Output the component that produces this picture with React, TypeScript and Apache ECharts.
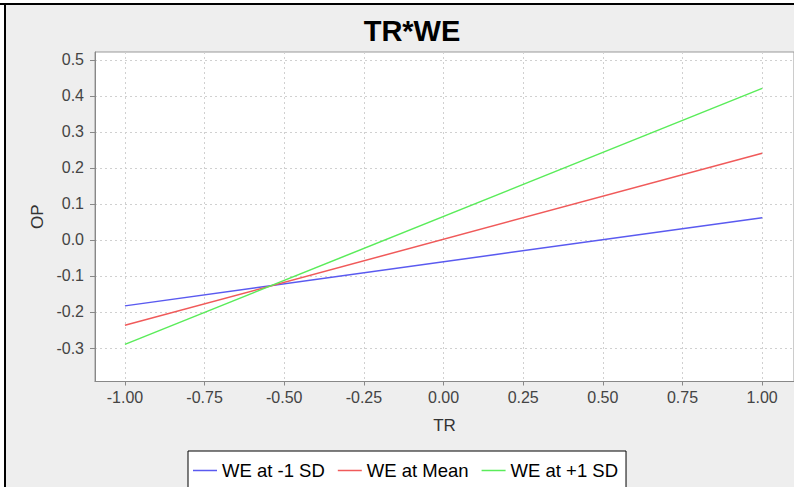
import React, { useEffect, useRef } from "react";
import * as echarts from "echarts";

const trValues = [-1, 1];
const weLowSD = [-0.183, 0.062];
const weMean = [-0.237, 0.241];
const weHighSD = [-0.29, 0.421];
const seriesNames = ["WE at -1 SD", "WE at Mean", "WE at +1 SD"];
const xTickValues = [-1, -0.75, -0.5, -0.25, 0, 0.25, 0.5, 0.75, 1];
const yTickValues = [-0.3, -0.2, -0.1, 0, 0.1, 0.2, 0.3, 0.4, 0.5];

const FONT = "'Liberation Sans', Arial, sans-serif";

export default function App() {
  const ref = useRef<HTMLDivElement>(null);
  useEffect(() => {
    if (!ref.current) return;
    const chart = echarts.init(ref.current, null, { renderer: "svg" });
    const toPairs = (ys: number[]) => trValues.map((x, i) => [x, ys[i]]);
    const axisGray = "#888888";
    chart.setOption({
      animation: false,
      backgroundColor: "#ffffff",
      textStyle: { fontFamily: FONT },
      title: {
        text: "TR*WE",
        left: 407,
        top: 11,
        textAlign: "center",
        textStyle: { fontFamily: FONT, fontWeight: "bold", fontSize: 29, color: "#000" },
      },
      graphic: [
        { type: "rect", z: -10, shape: { x: 6, y: 5, width: 800, height: 490 }, style: { fill: "#eeeeee" } },
        { type: "rect", z: 100, shape: { x: 0, y: 3, width: 794, height: 2 }, style: { fill: "#000" } },
        { type: "rect", z: 100, shape: { x: 4, y: 3, width: 2, height: 490 }, style: { fill: "#000" } },
      ],
      grid: {
        left: 95,
        top: 52,
        right: -3,
        bottom: 105.5,
        show: true,
        backgroundColor: "#ffffff",
        borderColor: "#999999",
        borderWidth: 1,
        containLabel: false,
      },
      xAxis: {
        type: "value",
        min: -1.094,
        max: 1.1,
        name: "TR",
        nameLocation: "middle",
        nameGap: 35,
        nameTextStyle: { fontFamily: FONT, fontSize: 17, color: "#333" },
        axisLine: { show: true, onZero: false, lineStyle: { color: axisGray } },
        axisTick: { show: true, length: 4, customValues: xTickValues, lineStyle: { color: axisGray } },
        axisLabel: {
          customValues: xTickValues,
          margin: 8,
          fontSize: 16,
          color: "#444",
          fontFamily: FONT,
          formatter: (v: number) => v.toFixed(2),
        },
        splitLine: { show: true, lineStyle: { color: "#d0d0d0", type: [2, 3], width: 1 } },
      },
      yAxis: {
        type: "value",
        min: -0.393,
        max: 0.522,
        name: "OP",
        nameLocation: "middle",
        nameGap: 48,
        nameTextStyle: { fontFamily: FONT, fontSize: 17, color: "#333" },
        axisLine: { show: true, onZero: false, lineStyle: { color: axisGray } },
        axisTick: { show: true, length: 5, customValues: yTickValues, lineStyle: { color: axisGray } },
        axisLabel: {
          customValues: yTickValues,
          margin: 11,
          fontSize: 16,
          color: "#444",
          fontFamily: FONT,
          formatter: (v: number) => v.toFixed(1),
        },
        splitLine: { show: true, lineStyle: { color: "#d0d0d0", type: [2, 3], width: 1 } },
      },
      legend: {
        left: 188,
        top: 451,
        orient: "horizontal",
        borderColor: "#000",
        borderWidth: 1,
        backgroundColor: "#ffffff",
        padding: [10, 8, 10, 5],
        itemGap: 13,
        itemWidth: 24,
        itemHeight: 1.5,
        icon: "rect",
        textStyle: { fontFamily: FONT, fontSize: 18.5, color: "#000" },
        data: seriesNames,
      },
      series: [
        { name: seriesNames[0], type: "line", data: toPairs(weLowSD), symbol: "none", lineStyle: { color: "#5a5af0", width: 1.5 }, itemStyle: { color: "#5a5af0" } },
        { name: seriesNames[1], type: "line", data: toPairs(weMean), symbol: "none", lineStyle: { color: "#f05a5a", width: 1.5 }, itemStyle: { color: "#f05a5a" } },
        { name: seriesNames[2], type: "line", data: toPairs(weHighSD), symbol: "none", lineStyle: { color: "#5aec5a", width: 1.5 }, itemStyle: { color: "#5aec5a" } },
      ],
    });
    return () => chart.dispose();
  }, []);
  return (
    <div
      ref={ref}
      style={{ position: "absolute", left: 0, top: 0, width: 794, height: 487, overflow: "hidden" }}
    />
  );
}
